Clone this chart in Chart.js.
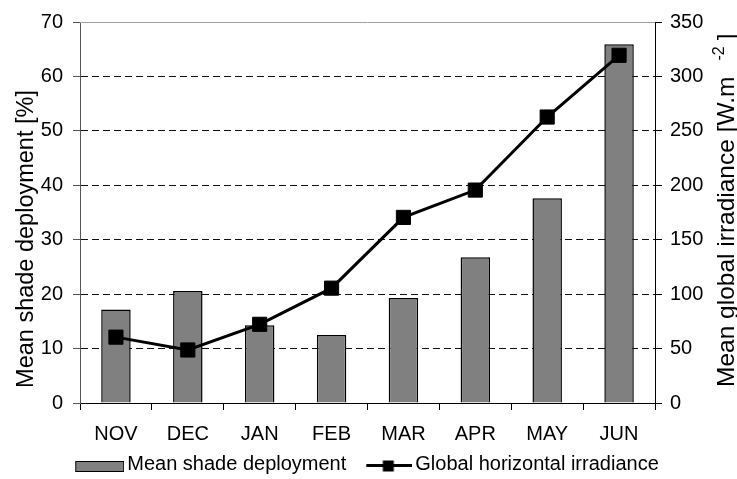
<!DOCTYPE html>
<html>
<head>
<meta charset="utf-8">
<script src="https://cdn.jsdelivr.net/npm/chart.js@4.4.1/dist/chart.umd.min.js"></script>
<style>
  html, body { margin: 0; padding: 0; background: #fff; }
  #wrap { width: 737px; height: 479px; }
</style>
</head>
<body>
<div id="wrap"><canvas id="grafico" width="737" height="479"></canvas></div>
<script>
const meses = ['NOV', 'DEC', 'JAN', 'FEB', 'MAR', 'APR', 'MAY', 'JUN'];
const sombreamento = [17.2, 20.6, 14.3, 12.5, 19.3, 26.8, 37.6, 65.9];
const irradiancia = [60.5, 48.7, 72.3, 105.5, 170.5, 195.6, 262.7, 319.4];
const ticksEsquerda = [0, 10, 20, 30, 40, 50, 60, 70];
const ticksDireita = [0, 50, 100, 150, 200, 250, 300, 350];
const nomesSeries = ['Mean shade deployment', 'Global horizontal irradiance'];

const FONTE = '"Liberation Sans", Arial, Helvetica, sans-serif';
Chart.defaults.font.family = FONTE;
Chart.defaults.font.size = 20;
Chart.defaults.color = '#000';

// icones da legenda (caixa cinza e linha com quadrado)
function iconeBarra() {
  const c = document.createElement('canvas');
  c.width = 63; c.height = 24;
  const ctx = c.getContext('2d');
  ctx.fillStyle = '#808080';
  ctx.fillRect(14.5, 9.5, 48, 10);
  ctx.strokeStyle = '#000';
  ctx.lineWidth = 1;
  ctx.strokeRect(14.5, 9.5, 48, 10);
  return c;
}

function iconeLinha() {
  const c = document.createElement('canvas');
  c.width = 63; c.height = 24;
  const ctx = c.getContext('2d');
  ctx.strokeStyle = '#000';
  ctx.lineWidth = 3;
  ctx.beginPath();
  ctx.moveTo(17, 13.5);
  ctx.lineTo(63, 13.5);
  ctx.stroke();
  ctx.fillStyle = '#000';
  ctx.fillRect(33.5, 8.5, 11, 11);
  return c;
}

const icones = [iconeBarra(), iconeLinha()];

// titulos dos eixos e borda superior
const pluginTitulos = {
  id: 'titulos',
  afterDraw(chart) {
    const ctx = chart.ctx;
    const area = chart.chartArea;
    ctx.save();
    ctx.strokeStyle = '#a0a0a0';
    ctx.lineWidth = 1;
    ctx.beginPath();
    ctx.moveTo(area.left, area.top + 0.5);
    ctx.lineTo(area.right, area.top + 0.5);
    ctx.stroke();

    ctx.fillStyle = '#000';
    ctx.textBaseline = 'alphabetic';

    ctx.save();
    ctx.font = '23.5px ' + FONTE;
    ctx.translate(33, 239);
    ctx.rotate(-Math.PI / 2);
    ctx.textAlign = 'center';
    ctx.fillText('Mean shade deployment [%]', 0, 0);
    ctx.restore();

    ctx.save();
    ctx.font = '24.5px ' + FONTE;
    ctx.translate(734, 387);
    ctx.rotate(-Math.PI / 2);
    ctx.textAlign = 'left';
    const principal = 'Mean global irradiance [W.m';
    ctx.fillText(principal, 0, 0);
    let x = ctx.measureText(principal).width + 16;
    ctx.font = '16px ' + FONTE;
    ctx.fillText('-2', x, -10);
    x += ctx.measureText('-2').width + 6;
    ctx.font = '24.5px ' + FONTE;
    ctx.fillText(']', x, 0);
    ctx.restore();

    ctx.restore();
  }
};

new Chart(document.getElementById('grafico'), {
  type: 'bar',
  data: {
    labels: meses,
    datasets: [{
      label: nomesSeries[0],
      data: sombreamento,
      yAxisID: 'y',
      backgroundColor: '#808080',
      borderColor: '#000',
      borderWidth: 1.5,
      barPercentage: 0.41,
      categoryPercentage: 1,
      order: 1
    }, {
      type: 'line',
      label: nomesSeries[1],
      data: irradiancia,
      yAxisID: 'y2',
      borderColor: '#000',
      borderWidth: 3,
      tension: 0,
      pointStyle: 'rect',
      pointRadius: 10,
      pointBackgroundColor: '#000',
      pointBorderColor: '#000',
      pointBorderWidth: 1,
      order: 0
    }]
  },
  options: {
    responsive: false,
    animation: false,
    devicePixelRatio: 1,
    layout: { padding: { top: 17, right: 10, bottom: -5, left: 0 } },
    plugins: {
      tooltip: { enabled: false },
      legend: {
        position: 'bottom',
        labels: {
          usePointStyle: true,
          pointStyleWidth: 49,
          padding: 10,
          font: { size: 20 },
          generateLabels: () => nomesSeries.map((nome, i) => ({
            text: nome,
            pointStyle: icones[i],
            fillStyle: '#808080',
            strokeStyle: '#000',
            lineWidth: 0,
            hidden: false,
            datasetIndex: i
          }))
        }
      }
    },
    scales: {
      x: {
        afterFit: s => { s.height = 41; },
        grid: { offset: true, drawOnChartArea: false, tickLength: 7, color: '#000' },
        border: { color: '#000', width: 1 },
        ticks: { padding: 12, font: { size: 20 } }
      },
      y: {
        position: 'left',
        min: ticksEsquerda[0],
        max: ticksEsquerda[ticksEsquerda.length - 1],
        afterFit: s => { s.width = 80; },
        ticks: { stepSize: ticksEsquerda[1] - ticksEsquerda[0], padding: 10, font: { size: 20 } },
        grid: {
          color: c => (c.tick && (c.tick.value === ticksEsquerda[0] || c.tick.value === ticksEsquerda[ticksEsquerda.length - 1])) ? 'rgba(0,0,0,0)' : '#111',
          tickColor: '#555',
          tickLength: 7,
          lineWidth: 1
        },
        border: { color: '#555', width: 1, dash: [7, 4] }
      },
      y2: {
        position: 'right',
        min: ticksDireita[0],
        max: ticksDireita[ticksDireita.length - 1],
        afterFit: s => { s.width = 72; },
        ticks: { stepSize: ticksDireita[1] - ticksDireita[0], padding: 8, font: { size: 20 } },
        grid: { drawOnChartArea: false, tickColor: '#000', tickLength: 7 },
        border: { color: '#000', width: 1 }
      }
    }
  },
  plugins: [pluginTitulos]
});
</script>
</body>
</html>
